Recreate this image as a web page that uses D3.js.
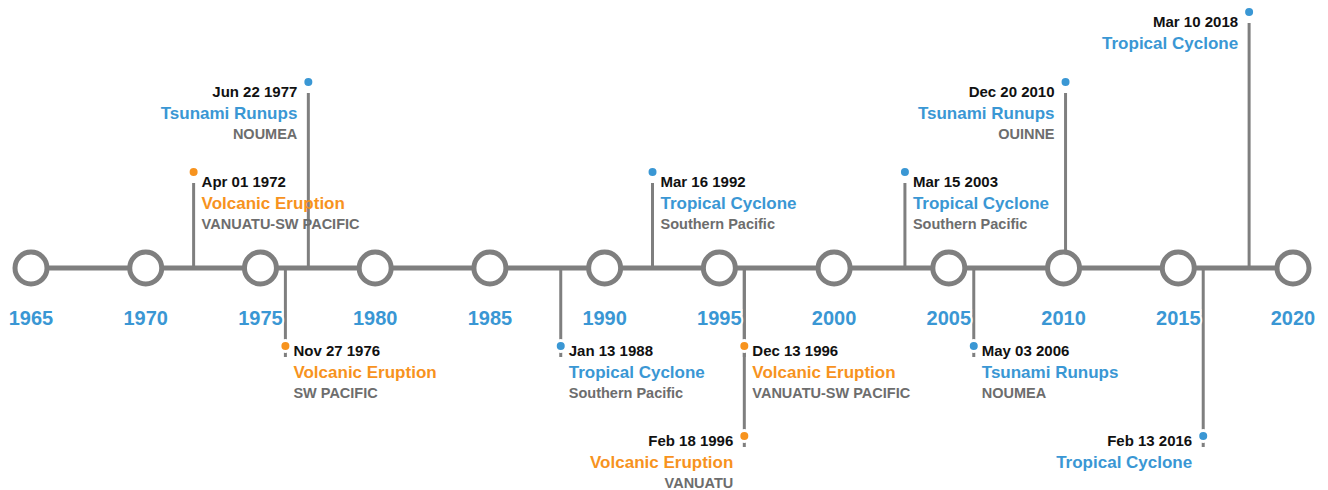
<!DOCTYPE html>
<html>
<head>
<meta charset="utf-8">
<script src="https://cdn.jsdelivr.net/npm/d3@7"></script>
<style>
  body { margin: 0; background: #fff; }
  text { font-family: "Liberation Sans", Arial, Helvetica, sans-serif; font-weight: bold; }
</style>
</head>
<body>
<div id="timeline"></div>
<script>
// timeline data
const tickYears = [1965, 1970, 1975, 1980, 1985, 1990, 1995, 2000, 2005, 2010, 2015, 2020];
const eventDates = ["1972-04-01", "1976-11-27", "1977-06-22", "1988-01-13", "1992-03-16", "1996-02-18",
  "1996-12-13", "2003-03-15", "2006-05-03", "2010-12-20", "2016-02-13", "2018-03-10"];
const eventTypes = ["Volcanic Eruption", "Volcanic Eruption", "Tsunami Runups", "Tropical Cyclone",
  "Tropical Cyclone", "Volcanic Eruption", "Volcanic Eruption", "Tropical Cyclone", "Tsunami Runups",
  "Tsunami Runups", "Tropical Cyclone", "Tropical Cyclone"];
const eventPlaces = ["VANUATU-SW PACIFIC", "SW PACIFIC", "NOUMEA", "Southern Pacific", "Southern Pacific",
  "VANUATU", "VANUATU-SW PACIFIC", "Southern Pacific", "NOUMEA", "OUINNE", "", ""];

// label placement: lane (negative = above axis, positive = below), text side
const eventLanes = [-1, 1, -2, 1, -1, 2, 1, -1, 1, -2, 2, -3];
const eventSides = ["right", "right", "left", "right", "right", "left", "right", "right", "right", "left", "left", "left"];

const width = 1328;
const height = 490;
const axisY = 268;
const laneY = { "-3": 12, "-2": 82, "-1": 172, "1": 346, "2": 436 };

const colors = { "Volcanic Eruption": "#f7931e", "Tsunami Runups": "#3a97d4", "Tropical Cyclone": "#3a97d4" };
const gray = "#7f7f7f";

const parse = d3.timeParse("%Y-%m-%d");
const fmt = d3.timeFormat("%b %d %Y");

const events = eventDates.map((d, i) => ({
  date: parse(d),
  type: eventTypes[i],
  place: eventPlaces[i],
  lane: eventLanes[i],
  side: eventSides[i]
}));

const x = d3.scaleLinear()
  .domain([1965, 2020])
  .range([31, 1293]);

const svg = d3.select("#timeline").append("svg")
  .attr("width", width)
  .attr("height", height);

// main axis line
svg.append("line")
  .attr("x1", x(1965)).attr("x2", x(2020))
  .attr("y1", axisY).attr("y2", axisY)
  .attr("stroke", gray)
  .attr("stroke-width", 5);

// stems
const ex = d => x(d.date.getFullYear()) + 2;
const ey = d => laneY[d.lane];

svg.selectAll("line.stem")
  .data(events)
  .enter().append("line")
  .attr("class", "stem")
  .attr("x1", ex).attr("x2", ex)
  .attr("y1", axisY)
  .attr("y2", d => ey(d) + 11)
  .attr("stroke", gray)
  .attr("stroke-width", 3);

// year circles
svg.selectAll("circle.year")
  .data(tickYears)
  .enter().append("circle")
  .attr("class", "year")
  .attr("cx", d => x(d))
  .attr("cy", axisY)
  .attr("r", 16)
  .attr("fill", "#fff")
  .attr("stroke", gray)
  .attr("stroke-width", 5);

// year labels
svg.selectAll("text.year")
  .data(tickYears)
  .enter().append("text")
  .attr("class", "year")
  .attr("x", d => x(d))
  .attr("y", 325)
  .attr("text-anchor", "middle")
  .attr("font-size", 20)
  .attr("fill", "#3a97d4")
  .attr("stroke", "#fff")
  .attr("stroke-width", 4)
  .attr("paint-order", "stroke")
  .text(d => d);

// event dots
svg.selectAll("circle.dot")
  .data(events)
  .enter().append("circle")
  .attr("class", "dot")
  .attr("cx", ex)
  .attr("cy", ey)
  .attr("r", 5.5)
  .attr("fill", d => colors[d.type])
  .attr("stroke", "#fff")
  .attr("stroke-width", 3);

// event labels
const labels = svg.selectAll("g.label")
  .data(events)
  .enter().append("g")
  .attr("class", "label")
  .attr("transform", d => {
    const tx = d.side === "right" ? ex(d) + 8 : ex(d) - 11;
    const ty = ey(d) + (d.lane < 0 ? 5 : 0);
    return `translate(${tx},${ty})`;
  })
  .attr("text-anchor", d => d.side === "right" ? "start" : "end");

labels.append("text")
  .attr("y", 10)
  .attr("font-size", 15)
  .attr("fill", "#111")
  .text(d => fmt(d.date));

labels.append("text")
  .attr("y", 32)
  .attr("font-size", 17)
  .attr("fill", d => colors[d.type])
  .text(d => d.type);

labels.append("text")
  .attr("y", 52)
  .attr("font-size", 14.5)
  .attr("fill", "#6d6d6d")
  .text(d => d.place);
</script>
</body>
</html>
